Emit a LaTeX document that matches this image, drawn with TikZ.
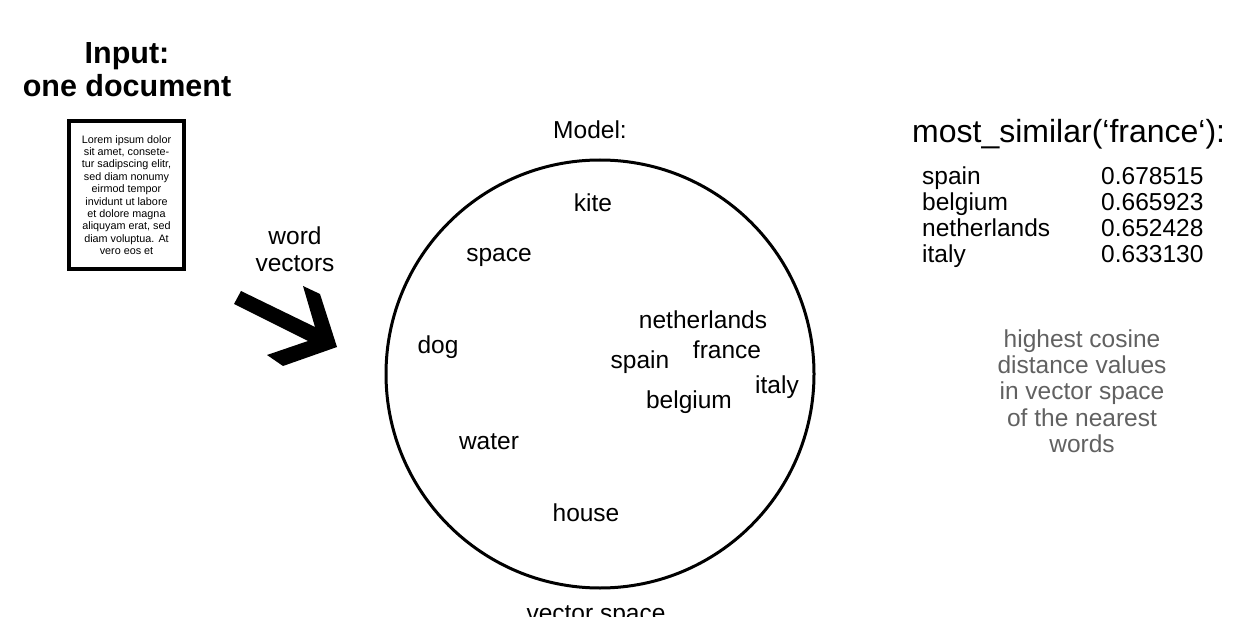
\documentclass[tikz,border=0pt]{standalone}
\usepackage{fontspec}
\setmainfont{Liberation Sans}

\tikzstyle{bigfig}=[x=1pt,y=-1pt]
\tikzstyle{wordlabel}=[inner sep=0pt,anchor=base,font=\fontsize{24.5}{26.3}\selectfont]
\tikzstyle{headlabel}=[inner sep=0pt,anchor=base,font=\bfseries\fontsize{30.5}{33}\selectfont]
\tikzstyle{notelabel}=[inner sep=0pt,align=center,text=black!62,font=\fontsize{24.5}{26.3}\selectfont]

\begin{document}
\begin{tikzpicture}[style=bigfig]
\useasboundingbox (0,0) rectangle (1238,617);

% input document
\node[headlabel] (input) at (127,64) {Input:};
\node[headlabel] (onedoc) at (127,97) {one document};
\node[draw,line width=4pt,inner sep=0pt,minimum width=115pt,minimum height=148pt,
      align=center,font=\fontsize{10.8}{12.4}\selectfont] (doc) at (126.5,195)
  {Lorem ipsum dolor\\sit amet, consete-\\tur sadipscing elitr,\\sed diam nonumy\\eirmod tempor\\invidunt ut labore\\et dolore magna\\aliquyam erat, sed\\diam voluptua. At\\vero eos et};

% arrow
\node[wordlabel] (word) at (295,245) {word};
\node[wordlabel] (vectors) at (295,272) {vectors};
\fill (241,291) -- (315,327) -- (303,286) -- (320,294) -- (337,347)
  -- (283,366) -- (267,355) -- (308,341) -- (234,304) -- cycle;

% model
\node[wordlabel] (model) at (590,139) {Model:};
\draw[line width=3pt] (600,374) circle (214);
\node[wordlabel] (kite) at (593,212) {kite};
\node[wordlabel] (space) at (499,262) {space};
\node[wordlabel] (dog) at (438,353) {dog};
\node[wordlabel] (netherlands) at (703,328) {netherlands};
\node[wordlabel] (france) at (727,358) {france};
\node[wordlabel] (spain) at (640,368) {spain};
\node[wordlabel] (italy) at (777,393) {italy};
\node[wordlabel] (belgium) at (689,408) {belgium};
\node[wordlabel] (water) at (489,449) {water};
\node[wordlabel] (house) at (586,521) {house};
\node[wordlabel] (vspace) at (596,621) {vector space};

% result
\node[wordlabel,anchor=base west,font=\fontsize{32}{34}\selectfont] (similar) at (912,143) {most\_similar(‘france‘):};
\node[wordlabel,anchor=base west] (r1) at (922,185) {spain};
\node[wordlabel,anchor=base west] (r2) at (922,211) {belgium};
\node[wordlabel,anchor=base west] (r3) at (922,237) {netherlands};
\node[wordlabel,anchor=base west] (r4) at (922,263) {italy};
\node[wordlabel,anchor=base west] (v1) at (1101,185) {0.678515};
\node[wordlabel,anchor=base west] (v2) at (1101,211) {0.665923};
\node[wordlabel,anchor=base west] (v3) at (1101,237) {0.652428};
\node[wordlabel,anchor=base west] (v4) at (1101,263) {0.633130};

\node[notelabel] (note) at (1082,391) {highest cosine\\distance values\\in vector space\\of the nearest\\words};
\end{tikzpicture}
\end{document}
